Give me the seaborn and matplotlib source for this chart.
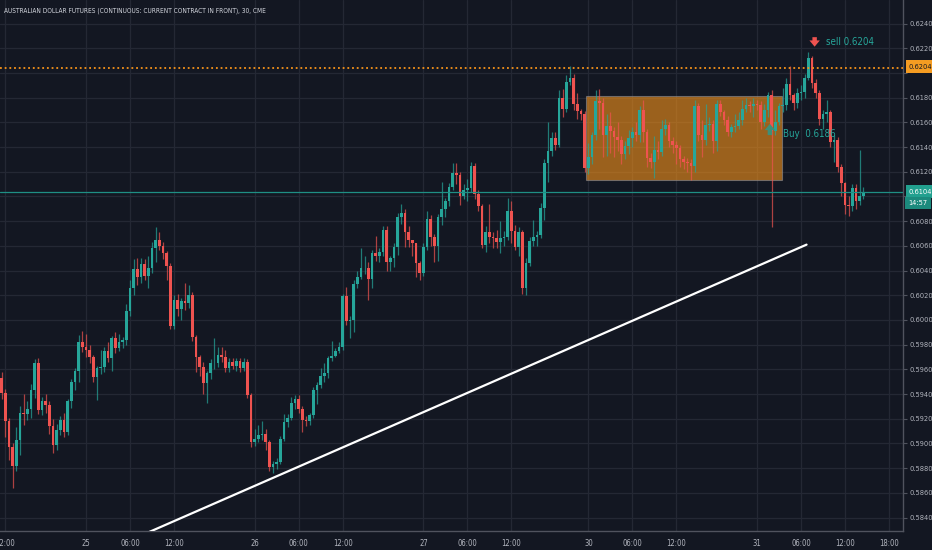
import numpy as np
import pandas as pd
import matplotlib
matplotlib.use('Agg')
import matplotlib.pyplot as plt
import matplotlib.transforms as mtransforms
import matplotlib.font_manager as fm
from matplotlib.patches import Rectangle
import seaborn as sns


# 30 min candles, Australian dollar futures
first_open = 0.5953
closes = [
    0.5941, 0.5918, 0.5897, 0.5882, 0.5903, 0.5925, 0.5924, 0.5928, 0.5943, 0.5965,
    0.5927, 0.5934, 0.5931, 0.5914, 0.5899, 0.5911, 0.5919, 0.5909, 0.5934, 0.5950,
    0.5959, 0.5982, 0.5978, 0.5976, 0.5970, 0.5954, 0.5961, 0.5962, 0.5975, 0.5969,
    0.5985, 0.5977, 0.5982, 0.5984, 0.6007, 0.6026, 0.6041, 0.6035, 0.6045, 0.6036,
    0.6042, 0.6058, 0.6065, 0.6060, 0.6054, 0.6044, 0.5995, 0.6016, 0.6009, 0.6015,
    0.6014, 0.6020, 0.5986, 0.5970, 0.5962, 0.5949, 0.5957, 0.5965, 0.5965, 0.5972,
    0.5970, 0.5961, 0.5966, 0.5963, 0.5967, 0.5961, 0.5966, 0.5939, 0.5901, 0.5904,
    0.5907, 0.5908, 0.5901, 0.5881, 0.5883, 0.5885, 0.5904, 0.5917, 0.5921, 0.5933,
    0.5936, 0.5928, 0.5919, 0.5918, 0.5923, 0.5943, 0.5947, 0.5955, 0.5957, 0.5969,
    0.5971, 0.5975, 0.5978, 0.6019, 0.5999, 0.6000, 0.6029, 0.6035, 0.6042, 0.6042,
    0.6033, 0.6054, 0.6052, 0.6055, 0.6073, 0.6047, 0.6050, 0.6059, 0.6083, 0.6087,
    0.6071, 0.6065, 0.6062, 0.6046, 0.6038, 0.6059, 0.6082, 0.6067, 0.6060, 0.6083,
    0.6090, 0.6096, 0.6108, 0.6119, 0.6117, 0.6100, 0.6105, 0.6107, 0.6125, 0.6102,
    0.6092, 0.6061, 0.6071, 0.6067, 0.6066, 0.6063, 0.6066, 0.6067, 0.6088, 0.6072,
    0.6059, 0.6071, 0.6026, 0.6046, 0.6064, 0.6067, 0.6069, 0.6091, 0.6127, 0.6137,
    0.6147, 0.6142, 0.6180, 0.6171, 0.6193, 0.6196, 0.6175, 0.6169, 0.6167, 0.6123,
    0.6132, 0.6150, 0.6177, 0.6176, 0.6150, 0.6157, 0.6153, 0.6148, 0.6146, 0.6134,
    0.6141, 0.6147, 0.6152, 0.6150, 0.6170, 0.6152, 0.6131, 0.6128, 0.6138, 0.6136,
    0.6155, 0.6158, 0.6145, 0.6142, 0.6139, 0.6130, 0.6128, 0.6127, 0.6125, 0.6173,
    0.6150, 0.6146, 0.6158, 0.6159, 0.6145, 0.6175, 0.6168, 0.6162, 0.6152, 0.6156,
    0.6157, 0.6162, 0.6171, 0.6174, 0.6173, 0.6175, 0.6174, 0.6160, 0.6170, 0.6182,
    0.6153, 0.6160, 0.6173, 0.6174, 0.6191, 0.6182, 0.6176, 0.6184, 0.6185, 0.6196,
    0.6212, 0.6192, 0.6184, 0.6163, 0.6167, 0.6168, 0.6144, 0.6146, 0.6124, 0.6111,
    0.6093, 0.6092, 0.6107, 0.6096, 0.6100, 0.6104,
]
highs = [
    0.5958, 0.5944, 0.5921, 0.5900, 0.5913, 0.5930, 0.5940, 0.5934, 0.5948, 0.5968,
    0.5969, 0.5938, 0.5940, 0.5934, 0.5920, 0.5916, 0.5922, 0.5925, 0.5936, 0.5952,
    0.5961, 0.5988, 0.5991, 0.5989, 0.5980, 0.5972, 0.5963, 0.5976, 0.5978, 0.5982,
    0.5987, 0.5990, 0.5989, 0.5986, 0.6013, 0.6032, 0.6049, 0.6050, 0.6050, 0.6049,
    0.6052, 0.6063, 0.6075, 0.6071, 0.6063, 0.6056, 0.6046, 0.6020, 0.6021, 0.6018,
    0.6030, 0.6028, 0.6023, 0.5988, 0.5972, 0.5966, 0.5959, 0.5968, 0.5985, 0.5978,
    0.5978, 0.5976, 0.5969, 0.5969, 0.5969, 0.5969, 0.5969, 0.5968, 0.5941, 0.5912,
    0.5915, 0.5918, 0.5912, 0.5903, 0.5886, 0.5888, 0.5906, 0.5924, 0.5924, 0.5938,
    0.5939, 0.5939, 0.5930, 0.5922, 0.5925, 0.5946, 0.5950, 0.5961, 0.5965, 0.5971,
    0.5983, 0.5977, 0.5982, 0.6021, 0.6027, 0.6003, 0.6032, 0.6040, 0.6058, 0.6052,
    0.6047, 0.6057, 0.6068, 0.6058, 0.6076, 0.6076, 0.6052, 0.6062, 0.6087, 0.6094,
    0.6090, 0.6076, 0.6065, 0.6062, 0.6048, 0.6062, 0.6088, 0.6085, 0.6070, 0.6086,
    0.6112, 0.6099, 0.6111, 0.6127, 0.6127, 0.6120, 0.6110, 0.6114, 0.6128, 0.6127,
    0.6105, 0.6094, 0.6076, 0.6094, 0.6071, 0.6073, 0.6080, 0.6072, 0.6099, 0.6096,
    0.6077, 0.6075, 0.6073, 0.6050, 0.6067, 0.6081, 0.6072, 0.6095, 0.6130, 0.6160,
    0.6152, 0.6152, 0.6186, 0.6187, 0.6198, 0.6206, 0.6199, 0.6184, 0.6171, 0.6169,
    0.6143, 0.6152, 0.6186, 0.6187, 0.6180, 0.6167, 0.6168, 0.6156, 0.6160, 0.6149,
    0.6145, 0.6154, 0.6156, 0.6160, 0.6173, 0.6178, 0.6155, 0.6135, 0.6149, 0.6145,
    0.6162, 0.6163, 0.6160, 0.6148, 0.6145, 0.6142, 0.6133, 0.6131, 0.6130, 0.6178,
    0.6176, 0.6162, 0.6175, 0.6164, 0.6162, 0.6178, 0.6178, 0.6170, 0.6165, 0.6159,
    0.6167, 0.6168, 0.6178, 0.6180, 0.6177, 0.6180, 0.6178, 0.6177, 0.6175, 0.6185,
    0.6186, 0.6170, 0.6176, 0.6188, 0.6196, 0.6206, 0.6184, 0.6188, 0.6190, 0.6199,
    0.6217, 0.6214, 0.6195, 0.6186, 0.6170, 0.6178, 0.6170, 0.6150, 0.6148, 0.6126,
    0.6112, 0.6100, 0.6110, 0.6110, 0.6138, 0.6108,
]
lows = [
    0.5936, 0.5905, 0.5887, 0.5864, 0.5878, 0.5891, 0.5915, 0.5919, 0.5921, 0.5937,
    0.5924, 0.5923, 0.5925, 0.5908, 0.5892, 0.5895, 0.5907, 0.5905, 0.5907, 0.5929,
    0.5943, 0.5950, 0.5974, 0.5970, 0.5965, 0.5950, 0.5935, 0.5956, 0.5958, 0.5966,
    0.5959, 0.5973, 0.5975, 0.5977, 0.5980, 0.6003, 0.6020, 0.6028, 0.6030, 0.6032,
    0.6026, 0.6038, 0.6047, 0.6057, 0.6049, 0.6032, 0.5993, 0.5993, 0.6003, 0.6000,
    0.6008, 0.6010, 0.5983, 0.5958, 0.5955, 0.5940, 0.5933, 0.5952, 0.5960, 0.5962,
    0.5966, 0.5958, 0.5958, 0.5960, 0.5959, 0.5958, 0.5959, 0.5937, 0.5897, 0.5898,
    0.5901, 0.5903, 0.5895, 0.5878, 0.5876, 0.5879, 0.5883, 0.5902, 0.5913, 0.5919,
    0.5928, 0.5925, 0.5909, 0.5914, 0.5915, 0.5921, 0.5932, 0.5945, 0.5950, 0.5953,
    0.5967, 0.5970, 0.5973, 0.5976, 0.5996, 0.5985, 0.5990, 0.6026, 0.6033, 0.6037,
    0.6016, 0.6026, 0.6048, 0.6047, 0.6052, 0.6040, 0.6040, 0.6043, 0.6053, 0.6078,
    0.6059, 0.6059, 0.6052, 0.6035, 0.6032, 0.6036, 0.6057, 0.6060, 0.6047, 0.6048,
    0.6077, 0.6083, 0.6092, 0.6105, 0.6110, 0.6093, 0.6098, 0.6096, 0.6104, 0.6098,
    0.6088, 0.6058, 0.6055, 0.6062, 0.6058, 0.6058, 0.6054, 0.6060, 0.6065, 0.6062,
    0.6057, 0.6052, 0.6021, 0.6020, 0.6044, 0.6060, 0.6060, 0.6066, 0.6081, 0.6112,
    0.6133, 0.6138, 0.6140, 0.6164, 0.6168, 0.6190, 0.6170, 0.6163, 0.6162, 0.6120,
    0.6118, 0.6126, 0.6146, 0.6155, 0.6132, 0.6133, 0.6135, 0.6132, 0.6137, 0.6126,
    0.6130, 0.6134, 0.6140, 0.6145, 0.6144, 0.6144, 0.6124, 0.6123, 0.6115, 0.6130,
    0.6133, 0.6150, 0.6140, 0.6135, 0.6126, 0.6124, 0.6122, 0.6120, 0.6113, 0.6120,
    0.6145, 0.6132, 0.6142, 0.6153, 0.6135, 0.6137, 0.6165, 0.6158, 0.6149, 0.6148,
    0.6152, 0.6155, 0.6158, 0.6168, 0.6168, 0.6164, 0.6170, 0.6155, 0.6157, 0.6164,
    0.6075, 0.6150, 0.6158, 0.6168, 0.6170, 0.6178, 0.6170, 0.6172, 0.6178, 0.6180,
    0.6194, 0.6188, 0.6180, 0.6158, 0.6155, 0.6160, 0.6140, 0.6128, 0.6120, 0.6100,
    0.6086, 0.6084, 0.6088, 0.6090, 0.6093, 0.6098,
]

# Time axis (bar index -> label)
tick_pos = [1, 23, 35, 47, 69, 81, 93, 115, 127, 139, 160, 172, 184, 206, 218, 230, 242]
tick_labels = ['12:00', '25', '06:00', '12:00', '26', '06:00', '12:00', '27', '06:00', '12:00',
               '30', '06:00', '12:00', '31', '06:00', '12:00', '18:00']
price_ticks = [0.5840, 0.5860, 0.5880, 0.5900, 0.5920, 0.5940, 0.5960, 0.5980, 0.6000, 0.6020,
               0.6040, 0.6060, 0.6080, 0.6100, 0.6120, 0.6140, 0.6160, 0.6180, 0.6200, 0.6220, 0.6240]
# these two sit under the price tags, so they are left blank
hidden_ticks = [0.6100, 0.6200]

# Drawings
last_price = 0.6104
last_time = '14:57'
sell_price = 0.6204
buy_price = 0.6186
sell_bar = 221.7
buy_bar = 209.5
box_x = [159.3, 212.7]
box_y = [0.6113, 0.6181]
trend_x = [40, 219.5]
trend_y = [0.5828, 0.6061]

BG = '#131722'
GRID = '#242834'
TXT = '#b2b5be'
UP = '#26a69a'
DOWN = '#ef5350'

sns.set_style('dark', rc={'axes.facecolor': BG, 'figure.facecolor': BG})

# pick a narrow face if the machine has one
names = set(f.name for f in fm.fontManager.ttflist)
stretch = 'normal'
if 'Liberation Sans Narrow' in names:
    fam = 'Liberation Sans Narrow'
elif any(f.name == 'DejaVu Sans' and f.stretch == 'condensed' for f in fm.fontManager.ttflist):
    fam, stretch = 'DejaVu Sans', 'condensed'
else:
    fam = 'Liberation Sans'
plt.rcParams['font.family'] = [fam, 'DejaVu Sans']
plt.rcParams['font.stretch'] = stretch
k = 1.0 if fam != 'Liberation Sans' else 0.85

df = pd.DataFrame({'close': closes, 'high': highs, 'low': lows})
df['open'] = [first_open] + closes[:-1]
df['idx'] = np.arange(len(df))
df['color'] = np.where(df['close'] >= df['open'], UP, DOWN)

fig = plt.figure(figsize=(9.32, 5.5), dpi=100)
ax = fig.add_axes([0, 19 / 550, 903 / 932, 531 / 550])
ax.set_facecolor(BG)

# Orange range box
ax.add_patch(Rectangle((box_x[0], box_y[0]), box_x[1] - box_x[0], box_y[1] - box_y[0],
                       facecolor='#f7931a', alpha=0.6, edgecolor='#8a8d96', lw=0.8, zorder=1))

# Candles
ax.vlines(df['idx'], df['low'], df['high'], colors=df['color'], lw=0.9, alpha=0.7, zorder=2)
body = np.maximum((df['close'] - df['open']).abs(), 0.00004)
ax.bar(df['idx'], body, bottom=np.minimum(df['open'], df['close']), width=0.74,
       color=df['color'], lw=0, zorder=3)

# Trend line
sns.lineplot(x=trend_x, y=trend_y, ax=ax, color='white', lw=1.6, zorder=4)

# Horizontal levels
ax.axhline(sell_price, color='#f7931a', lw=1.3, ls=(0, (1, 1.6)), zorder=4)
ax.axhline(last_price, color='#1f8f84', lw=0.9, zorder=4)

# Sell / buy markers
ax.annotate('', xy=(sell_bar, 0.62213), xytext=(sell_bar, 0.62290),
            arrowprops=dict(facecolor=DOWN, edgecolor='none', width=3.2, headwidth=7.5, headlength=4.5))
ax.text(224.9, 0.62253, 'sell 0.6204', color=UP, fontsize=7 * k, va='center', ha='left')
ax.annotate('', xy=(buy_bar, 0.61588), xytext=(buy_bar, 0.61497),
            arrowprops=dict(facecolor='#3e8f78', edgecolor='none', width=3.2, headwidth=7.5, headlength=4.5))
ax.text(213.0, 0.61506, 'Buy  0.6186', color=UP, fontsize=7 * k, va='center', ha='left')

ax.set_xlim(-0.455, 245.8)
ax.set_ylim(0.58291, 0.62591)

ax.set_xticks(tick_pos)
ax.set_xticklabels(tick_labels)
ax.set_yticks(price_ticks)
ax.set_yticklabels(['' if p in hidden_ticks else '{:.4f}'.format(p) for p in price_ticks])
ax.yaxis.tick_right()
ax.tick_params(axis='both', length=3, width=0.8, color='#50535e', colors=TXT)
ax.tick_params(axis='y', pad=2, labelsize=5.3 * k)
ax.tick_params(axis='x', pad=3, labelsize=5.5 * k)
ax.grid(True, color=GRID, lw=0.9)
for s in ['top', 'left']:
    ax.spines[s].set_visible(False)
for s in ['right', 'bottom']:
    ax.spines[s].set_color('#50535e')
    ax.spines[s].set_linewidth(1)

# Price tags on the right scale
tr = mtransforms.blended_transform_factory(ax.transAxes, ax.transData)
ax.text(1.0065, sell_price + 0.0001, '0.6204', transform=tr, fontsize=5.3 * k, color='#131722',
        va='center', ha='left', bbox=dict(boxstyle='square,pad=0.45', fc='#f59c22', ec='none'),
        zorder=6, clip_on=False)
ax.text(1.0065, last_price, '0.6104', transform=tr, fontsize=5.3 * k, color='white',
        va='center', ha='left', bbox=dict(boxstyle='square,pad=0.45', fc='#22a08f', ec='none'),
        zorder=6, clip_on=False)
ax.text(1.0275, last_price - 0.00094, last_time, transform=tr, fontsize=5.3 * k, color='white',
        va='center', ha='right', bbox=dict(boxstyle='square,pad=0.45', fc='#1c8a7d', ec='none'),
        zorder=6, clip_on=False)

fig.text(4 / 932, 1 - 11 / 550, 'AUSTRALIAN DOLLAR FUTURES (CONTINUOUS: CURRENT CONTRACT IN FRONT), 30, CME',
         color='#d1d4dc', fontsize=4.7 * k, va='center', ha='left')

fig.savefig('out.png', dpi=100, facecolor=BG)
